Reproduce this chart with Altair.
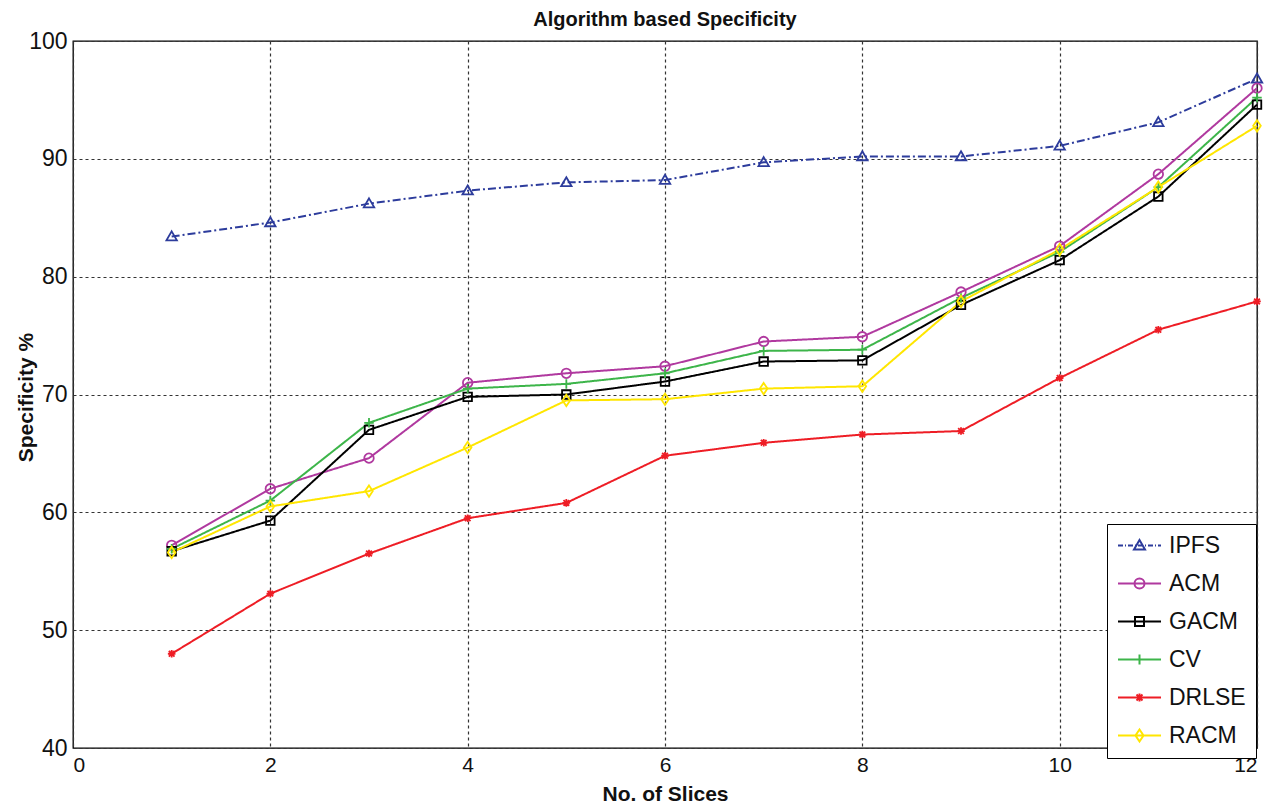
import altair as alt
import pandas as pd

slices = list(range(1, 13))
series_names = ["IPFS", "ACM", "GACM", "CV", "DRLSE", "RACM"]
ipfs = [83.4, 84.6, 86.2, 87.3, 88.0, 88.2, 89.7, 90.2, 90.2, 91.1, 93.1, 96.8]
acm = [57.2, 62.0, 64.6, 71.0, 71.8, 72.4, 74.5, 74.9, 78.7, 82.6, 88.7, 96.0]
gacm = [56.7, 59.3, 67.0, 69.8, 70.0, 71.1, 72.8, 72.9, 77.6, 81.4, 86.8, 94.6]
cv = [56.9, 61.0, 67.6, 70.5, 70.9, 71.8, 73.7, 73.8, 78.2, 82.1, 87.6, 95.2]
drlse = [48.0, 53.1, 56.5, 59.5, 60.8, 64.8, 65.9, 66.6, 66.9, 71.4, 75.5, 77.9]
racm = [56.6, 60.5, 61.8, 65.5, 69.5, 69.6, 70.5, 70.7, 77.9, 82.3, 87.6, 92.8]

colors = ["#2D3C9C", "#B0399F", "#000000", "#3DB54A", "#EE1D25", "#FFE600"]
dashes = [[8, 3, 2, 3], [1, 0], [1, 0], [1, 0], [1, 0], [1, 0]]

marker_paths = [
    "M0,-1.1L1.1,0.8L-1.1,0.8Z",
    "M1,0A1,1,0,1,1,-1,0A1,1,0,1,1,1,0Z",
    "M-0.9,-0.9L0.9,-0.9L0.9,0.9L-0.9,0.9Z",
    "M-1,0L1,0M0,-1L0,1",
    "M-0.8,0L0.8,0M0,-0.8L0,0.8M-0.6,-0.6L0.6,0.6M-0.6,0.6L0.6,-0.6",
    "M0,-1.2L0.8,0L0,1.2L-0.8,0Z",
]
solid = "M-4.3,0L4.3,0"
dashdot = ("M-4.3,0L-3.3,0M-2.9,0L-2.7,0M-2.3,0L-1.3,0M-0.9,0L-0.7,0"
           "M-0.3,0L0.7,0M1.1,0L1.3,0M1.7,0L2.7,0M3.1,0L3.3,0M3.7,0L4.3,0")
legend_paths = [dashdot + marker_paths[0]] + [solid + p for p in marker_paths[1:]]

rows = []
for name, vals in zip(series_names, [ipfs, acm, gacm, cv, drlse, racm]):
    for s, v in zip(slices, vals):
        rows.append({"slice": s, "value": v, "series": name, "lseries": name})
df = pd.DataFrame(rows)

FONT = "Liberation Sans"
cscale = alt.Scale(domain=series_names, range=colors)

x_enc = alt.X("slice:Q", title="No. of Slices",
              scale=alt.Scale(domain=[0, 12], nice=False),
              axis=alt.Axis(values=[0, 2, 4, 6, 8, 10, 12], format="d",
                            labelFontSize=21, labelPadding=6, titlePadding=8))
y_enc = alt.Y("value:Q", title="Specificity %",
              scale=alt.Scale(domain=[40, 100], nice=False),
              axis=alt.Axis(values=[40, 50, 60, 70, 80, 90, 100],
                            labelFontSize=23, labelPadding=6,
                            titleX=-37, titleY=356, titleAnchor="middle"))

base = alt.Chart(df)

lines = base.mark_line(strokeWidth=2).encode(
    x=x_enc, y=y_enc,
    color=alt.Color("series:N", scale=cscale, legend=None),
    strokeDash=alt.StrokeDash("series:N", scale=alt.Scale(domain=series_names, range=dashes), legend=None),
    order=alt.Order("slice:Q"),
)

points = base.mark_point(filled=False, size=90, strokeWidth=1.8, opacity=1).encode(
    x=x_enc, y=y_enc,
    color=alt.Color("series:N", scale=cscale, legend=None),
    shape=alt.Shape("series:N", scale=alt.Scale(domain=series_names, range=marker_paths), legend=None),
)

legend_layer = base.transform_filter("datum.slice < 0").mark_point(
    filled=False, size=100, strokeWidth=2, opacity=1).encode(
    x=x_enc, y=y_enc,
    color=alt.Color("lseries:N", scale=alt.Scale(domain=series_names, range=colors), title=None,
                    legend=alt.Legend(orient="none", legendX=1034, legendY=483)),
    shape=alt.Shape("lseries:N", scale=alt.Scale(domain=series_names, range=legend_paths), title=None,
                    legend=alt.Legend(orient="none", legendX=1034, legendY=483)),
)

chart = alt.layer(lines, points, legend_layer).resolve_scale(
    color="independent", shape="independent"
).properties(
    width=1184, height=707,
    autosize=alt.AutoSizeParams(type="none"),
    padding={"left": 65, "top": 33, "right": 10, "bottom": 61},
    title=alt.TitleParams("Algorithm based Specificity", fontSize=20, font=FONT,
                          fontWeight="bold", offset=0, anchor="middle", color="#111"),
).configure_view(
    stroke="#000", strokeWidth=1.3
).configure_axis(
    labelFont=FONT, labelColor="#111",
    titleFont=FONT, titleFontSize=21, titleFontWeight="bold", titleColor="#111",
    grid=True, gridColor="#333", gridDash=[3, 3], gridWidth=1.2, gridOpacity=1,
    domain=False, ticks=False,
).configure_legend(
    strokeColor="#000", fillColor="#fff", padding=10, cornerRadius=0,
    labelFont=FONT, labelFontSize=23, labelColor="#111",
    symbolStrokeWidth=2, symbolSize=100, symbolOffset=11, labelOffset=18,
    rowPadding=14, labelLimit=200,
)

chart.save("out.html", embed_options={"renderer": "svg", "actions": False})
